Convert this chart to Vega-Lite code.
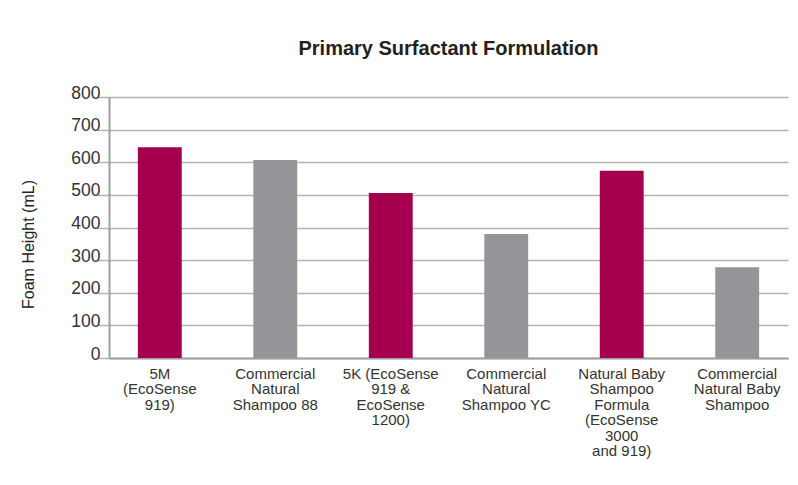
{
  "$schema": "https://vega.github.io/schema/vega-lite/v6.json",
  "width": 679,
  "height": 261,
  "autosize": "none",
  "padding": {"left": 109, "top": 97, "right": 10, "bottom": 127},
  "background": "white",
  "title": {
    "text": "Primary Surfactant Formulation",
    "font": "Liberation Sans",
    "fontSize": 20,
    "fontWeight": "bold",
    "color": "#231f20",
    "anchor": "middle",
    "offset": 25
  },
  "data": {
    "values": [
      {"label": "5M|(EcoSense|919)", "foam": 646, "type": "EcoSense"},
      {"label": "Commercial|Natural|Shampoo 88", "foam": 607, "type": "Commercial"},
      {"label": "5K (EcoSense|919 &|EcoSense|1200)", "foam": 506, "type": "EcoSense"},
      {"label": "Commercial|Natural|Shampoo YC", "foam": 380, "type": "Commercial"},
      {"label": "Natural Baby|Shampoo|Formula|(EcoSense|3000|and 919)", "foam": 574, "type": "EcoSense"},
      {"label": "Commercial|Natural Baby|Shampoo", "foam": 278, "type": "Commercial"}
    ]
  },
  "mark": {"type": "bar"},
  "encoding": {
    "x": {
      "field": "label",
      "type": "nominal",
      "sort": null,
      "scale": {"paddingInner": 0.62, "paddingOuter": 0.25},
      "axis": {
        "title": null,
        "labelAngle": 0,
        "labelExpr": "split(datum.label, '|')",
        "labelFont": "Liberation Sans",
        "labelFontSize": 15,
        "labelLineHeight": 15.5,
        "labelColor": "#333333",
        "labelPadding": 8,
        "labelBaseline": "top",
        "ticks": false,
        "domainColor": "#a0a0a0",
        "domainWidth": 2
      }
    },
    "y": {
      "field": "foam",
      "type": "quantitative",
      "scale": {"domain": [0, 800], "nice": false},
      "axis": {
        "title": "Foam Height (mL)",
        "titleFont": "Liberation Sans",
        "titleFontSize": 16,
        "titleFontWeight": "normal",
        "titleColor": "#231f20",
        "titleAngle": -90,
        "titleAlign": "center",
        "titleBaseline": "middle",
        "titleX": -81,
        "titleY": 147,
        "values": [0, 100, 200, 300, 400, 500, 600, 700, 800],
        "labelFont": "Liberation Sans",
        "labelFontSize": 17.5,
        "labelColor": "#333333",
        "labelBaseline": "alphabetic",
        "labelOffset": 1,
        "labelPadding": -3,
        "tickSize": 12,
        "tickColor": "#b3b3b3",
        "tickWidth": 1.5,
        "grid": true,
        "gridColor": "#b3b3b3",
        "gridWidth": 1.5,
        "domainColor": "#a0a0a0",
        "domainWidth": 2
      }
    },
    "color": {
      "field": "type",
      "type": "nominal",
      "scale": {"domain": ["EcoSense", "Commercial"], "range": ["#a4004e", "#939598"]},
      "legend": null
    }
  },
  "config": {"view": {"stroke": null}}
}
